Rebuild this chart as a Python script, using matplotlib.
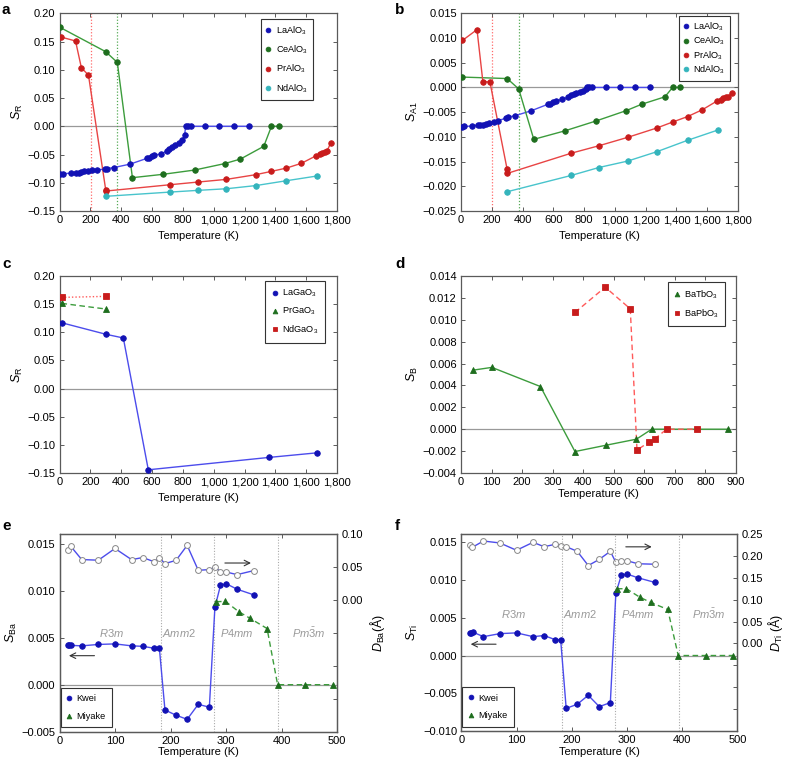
import matplotlib
matplotlib.use("Agg")
import matplotlib.pyplot as plt
from matplotlib.ticker import FuncFormatter, MultipleLocator

plt.rcParams['font.family'] = ['Liberation Sans', 'DejaVu Sans']
plt.rcParams['mathtext.fontset'] = 'custom'
plt.rcParams['mathtext.rm'] = 'Liberation Sans'
plt.rcParams['mathtext.it'] = 'Liberation Sans:italic'

# ---------------- data ----------------
# Panel a / b : aluminates
la_al_T = [4, 22, 73, 108, 125, 142, 162, 183, 212, 242, 294, 306, 354, 458, 565, 581, 600,
           615, 658, 695, 712, 732, 749, 773, 796, 812, 818, 832, 850, 941, 1036, 1131, 1226]
la_al_SR = [-0.084, -0.084, -0.083, -0.082, -0.082, -0.081, -0.080, -0.080, -0.078, -0.077,
            -0.076, -0.075, -0.073, -0.067, -0.057, -0.056, -0.053, -0.051, -0.049, -0.044,
            -0.040, -0.036, -0.033, -0.030, -0.025, -0.015, 0, 0, 0, 0, 0, 0, 0]
la_al_SA1 = [-0.0080, -0.0079, -0.0078, -0.0076, -0.0075, -0.0075, -0.0074, -0.0072, -0.0070,
             -0.0067, -0.0062, -0.0060, -0.0057, -0.0047, -0.0034, -0.0033, -0.0029, -0.0028,
             -0.0024, -0.0020, -0.0016, -0.0014, -0.0012, -0.0010, -0.0008, -0.0004,
             0, 0, 0, 0, 0, 0, 0]

ce_al_T = [4, 300, 375, 473, 673, 876, 1073, 1174, 1325, 1375, 1425]
ce_al_SR = [0.175, 0.132, 0.113, -0.091, -0.085, -0.0775, -0.066, -0.058, -0.0355, 0.0, 0.0]
ce_al_SA1 = [0.0021, 0.0018, -0.0003, -0.0105, -0.0088, -0.0068, -0.0047, -0.0034, -0.0019, 0.0, 0.0]

pr_al_T = [9, 104, 142, 188, 300, 300, 717, 896, 1083, 1273, 1375, 1472, 1569, 1666, 1688,
           1705, 1720, 1735, 1759]
pr_al_SR = [0.158, 0.151, 0.1035, 0.0905, -0.113, -0.1147, -0.1035, -0.0988, -0.094, -0.0857,
            -0.0798, -0.074, -0.0656, -0.052, -0.0497, -0.047, -0.045, -0.044, -0.0296]
pr_al_SA1 = [0.0095, 0.0117, 0.0012, 0.0011, -0.0166, -0.0174, -0.0133, -0.0118, -0.0101,
             -0.0082, -0.0070, -0.0059, -0.0045, -0.0027, -0.0026, -0.0022, -0.0020, -0.0019,
             -0.0011]

nd_al_T = [300, 717, 896, 1083, 1273, 1472, 1671]
nd_al_SR = [-0.124, -0.1165, -0.1135, -0.1106, -0.105, -0.0964, -0.088]
nd_al_SA1 = [-0.0211, -0.0178, -0.0162, -0.0149, -0.0130, -0.0107, -0.0086]

al_transitions = [203, 375]

# Panel c : gallates
la_ga_T = [13, 302, 414, 576, 1356, 1673]
la_ga_SR = [0.117, 0.0964, 0.0899, -0.1443, -0.1224, -0.1141]
pr_ga_T = [13, 302]
pr_ga_SR = [0.1514, 0.1413]
nd_ga_T = [13, 302]
nd_ga_SR = [0.162, 0.1638]

# Panel d
batb_T = [40, 101, 260, 373, 475, 574, 624, 873]
batb_SB = [0.0054, 0.00565, 0.0039, -0.00204, -0.00146, -0.00091, 0.0, 0.0]
bapb_T = [373, 472, 554, 576, 614, 634, 673, 772]
bapb_SB = [0.01067, 0.01298, 0.0110, -0.00191, -0.00119, -0.00088, 0.0, 0.0]

# Panels e / f : BaTiO3
kwei_T = [15, 17, 21, 40, 70, 100, 130, 150, 170, 180, 190, 210, 230, 250, 270, 280, 290, 300, 320, 350]
kwei_SBa = [0.00426, 0.0042, 0.0042, 0.00415, 0.0043, 0.00436, 0.00415, 0.0041, 0.0039, 0.00387,
            -0.0027, -0.00326, -0.0037, -0.0021, -0.0024, 0.00826, 0.0106, 0.0108, 0.0102, 0.0096]
kwei_STi = [0.00296, 0.0030, 0.0031, 0.0025, 0.0029, 0.0030, 0.0025, 0.00265, 0.0021, 0.0021,
            -0.0070, -0.00646, -0.00527, -0.00677, -0.00624, 0.00827, 0.01066, 0.0108, 0.0103, 0.0097]
miyake_T = [282, 299, 323, 343, 374, 393, 443, 493]
miyake_SBa = [0.00887, 0.0089, 0.0078, 0.0071, 0.0060, 0.0, 0.0, 0.0]
miyake_STi = [0.00885, 0.00885, 0.00774, 0.00704, 0.0061, 0.0, 0.0, 0.0]
d_T = [15, 20, 40, 70, 100, 130, 150, 170, 180, 190, 210, 230, 250, 270, 280, 290, 300, 320, 350]
d_Ba = [0.0755, 0.0816, 0.0612, 0.0602, 0.078, 0.061, 0.0643, 0.058, 0.064, 0.055, 0.060, 0.0827,
        0.0449, 0.0459, 0.0495, 0.0429, 0.0423, 0.0383, 0.0444]
d_Ti = [0.224, 0.2196, 0.234, 0.2295, 0.2128, 0.231, 0.221, 0.2264, 0.2226, 0.221, 0.2105, 0.178,
        0.192, 0.2105, 0.185, 0.189, 0.189, 0.182, 0.181]
bt_transitions = [183, 279, 394]
phase_names = [r"$R3m$", r"$Amm2$", r"$P4mm$", r"$Pm\bar{3}m$"]
phase_T = [94, 216, 320, 449]

# ---------------- styles ----------------
BLUE_M, BLUE_L = '#1212b4', '#4c4cec'
GREEN_M, GREEN_L = '#1e6e1e', '#3c9c3c'
RED_M, RED_L = '#c81c1c', '#e84444'
CYAN_M, CYAN_L = '#34b4bc', '#48c4cc'
SPINE = '#5a5a5a'
FS = 8
LFS = 6.6

fig = plt.figure(figsize=(7.86, 7.64), dpi=100)
W, H = 786.0, 764.0


def add_ax(l, t, r, b):
    return fig.add_axes([l / W, 1 - b / H, (r - l) / W, (b - t) / H])


def style(ax, right=True):
    for s in ax.spines.values():
        s.set_color(SPINE)
        s.set_linewidth(0.9)
    ax.tick_params(direction='in', top=True, right=right, length=3, width=0.7,
                   colors=SPINE, labelcolor='black', labelsize=FS, pad=3)
    ax.axhline(0, color='#999999', lw=0.9, zorder=1)


comma = FuncFormatter(lambda v, p: f"{int(v):,}")


def fmt(n):
    return FuncFormatter(lambda v, p: f"{v:.{n}f}".replace('-', '\u2212') if abs(v) > 1e-12 else f"{0:.{n}f}")


def series(ax, x, y, mc, lc, marker='o', ls='-', ms=4.0, label=None):
    ax.plot(x, y, ls=ls, color=lc, lw=1.0, zorder=2)
    ax.plot(x, y, ls='none', marker=marker, ms=ms, mfc=mc, mec=mc, mew=0.6, zorder=3, label=label)


def legend(ax, loc, anchor, spacing, pad):
    leg = ax.legend(loc=loc, fontsize=LFS, markerscale=0.85, handlelength=0.5,
                    handletextpad=0.55, borderpad=pad, labelspacing=spacing, fancybox=False,
                    framealpha=1, edgecolor='#333333', bbox_to_anchor=anchor, borderaxespad=0)
    leg.get_frame().set_linewidth(0.8)
    return leg


def panel_letter(s, x, y):
    fig.text(x / W, 1 - y / H, s, fontsize=11, fontweight='bold', va='center', ha='left')


# ---------- a ----------
ax = add_ax(59.5, 13.3, 337, 211)
style(ax)
for T, c in zip(al_transitions, ['#ff6b6b', '#55aa55']):
    ax.axvline(T, color=c, ls=(0, (1, 1.5)), lw=0.9, zorder=1)
series(ax, la_al_T, la_al_SR, BLUE_M, BLUE_L, label='LaAlO$_3$')
series(ax, ce_al_T, ce_al_SR, GREEN_M, GREEN_L, label='CeAlO$_3$')
series(ax, pr_al_T, pr_al_SR, RED_M, RED_L, label='PrAlO$_3$')
series(ax, nd_al_T, nd_al_SR, CYAN_M, CYAN_L, label='NdAlO$_3$')
ax.set_xlim(0, 1800)
ax.set_ylim(-0.15, 0.20)
ax.xaxis.set_major_locator(MultipleLocator(200))
ax.yaxis.set_major_locator(MultipleLocator(0.05))
ax.xaxis.set_major_formatter(comma)
ax.yaxis.set_major_formatter(fmt(2))
ax.set_xlabel('Temperature (K)', fontsize=FS)
ax.set_ylabel(r'$S_{\rm R}$', fontsize=FS + 1, labelpad=2)
legend(ax, 'upper right', (0.9135, 0.971), 0.75, 0.55)
panel_letter('a', 2, 10)

# ---------- b ----------
ax = add_ax(461, 13.3, 738, 211)
style(ax)
for T, c in zip(al_transitions, ['#ff6b6b', '#55aa55']):
    ax.axvline(T, color=c, ls=(0, (1, 1.5)), lw=0.9, zorder=1)
series(ax, la_al_T, la_al_SA1, BLUE_M, BLUE_L, label='LaAlO$_3$')
series(ax, ce_al_T, ce_al_SA1, GREEN_M, GREEN_L, label='CeAlO$_3$')
series(ax, pr_al_T, pr_al_SA1, RED_M, RED_L, label='PrAlO$_3$')
series(ax, nd_al_T, nd_al_SA1, CYAN_M, CYAN_L, label='NdAlO$_3$')
ax.set_xlim(0, 1800)
ax.set_ylim(-0.025, 0.015)
ax.xaxis.set_major_locator(MultipleLocator(200))
ax.yaxis.set_major_locator(MultipleLocator(0.005))
ax.xaxis.set_major_formatter(comma)
ax.yaxis.set_major_formatter(fmt(3))
ax.set_xlabel('Temperature (K)', fontsize=FS)
ax.set_ylabel(r'$S_{\rm A1}$', fontsize=FS + 1, labelpad=2)
legend(ax, 'upper right', (0.971, 0.986), 0.2, 0.5)
panel_letter('b', 393 + 2, 10)

# ---------- c ----------
ax = add_ax(59.5, 276, 337, 473)
style(ax)
series(ax, la_ga_T, la_ga_SR, BLUE_M, BLUE_L, label='LaGaO$_3$')
series(ax, pr_ga_T, pr_ga_SR, GREEN_M, GREEN_L, marker='^', ls=(0, (4, 2.5)), label='PrGaO$_3$')
series(ax, nd_ga_T, nd_ga_SR, RED_M, '#ff5a5a', marker='s', ls=(0, (1, 1.5)), ms=3.8, label='NdGaO$_3$')
ax.set_xlim(0, 1800)
ax.set_ylim(-0.15, 0.20)
ax.xaxis.set_major_locator(MultipleLocator(200))
ax.yaxis.set_major_locator(MultipleLocator(0.05))
ax.xaxis.set_major_formatter(comma)
ax.yaxis.set_major_formatter(fmt(2))
ax.set_xlabel('Temperature (K)', fontsize=FS)
ax.set_ylabel(r'$S_{\rm R}$', fontsize=FS + 1, labelpad=2)
legend(ax, 'upper right', (0.957, 0.975), 0.7, 0.75)
panel_letter('c', 2, 264)

# ---------- d ----------
ax = add_ax(461, 276, 736, 473)
style(ax)
series(ax, batb_T, batb_SB, GREEN_M, GREEN_L, marker='^', label='BaTbO$_3$')
series(ax, bapb_T, bapb_SB, RED_M, '#ff5a5a', marker='s', ls=(0, (4, 2.5)), ms=3.8, label='BaPbO$_3$')
ax.set_xlim(0, 900)
ax.set_ylim(-0.004, 0.014)
ax.xaxis.set_major_locator(MultipleLocator(100))
ax.yaxis.set_major_locator(MultipleLocator(0.002))
ax.yaxis.set_major_formatter(fmt(3))
ax.set_xlabel('Temperature (K)', fontsize=FS, labelpad=1)
ax.set_ylabel(r'$S_{\rm B}$', fontsize=FS + 1, labelpad=2)
legend(ax, 'upper right', (0.96, 0.97), 0.7, 0.7)
panel_letter('d', 393 + 2, 264)


# ---------- e / f ----------
def bt_panel(box, S_kwei, S_miy, D, ylim, ylim2, ylab, y2lab, y2labeled, phase_y,
             larrow_y, rarrow_y, letter, letter_xy, y2pad):
    ax = add_ax(*box)
    style(ax, right=False)
    for T in bt_transitions:
        ax.axvline(T, color='#aaaaaa', ls=(0, (1, 1.5)), lw=0.8, zorder=1)
    ax2 = ax.twinx()
    ax2.plot(d_T, D, color=BLUE_L, lw=1.0, marker='o', ms=4.2, mfc='white',
             mec='#888888', mew=0.7, zorder=3)
    series(ax, kwei_T, S_kwei, BLUE_M, BLUE_L, label='Kwei')
    series(ax, miyake_T, S_miy, GREEN_M, GREEN_L, marker='^', ls=(0, (4, 2.5)), label='Miyake')
    ax.set_xlim(0, 500)
    ax.set_ylim(*ylim)
    ax.xaxis.set_major_locator(MultipleLocator(100))
    ax.yaxis.set_major_locator(MultipleLocator(0.005))
    ax.yaxis.set_major_formatter(fmt(3))
    ax.set_xlabel('Temperature (K)', fontsize=FS, labelpad=1)
    ax.set_ylabel(ylab, fontsize=FS + 1, labelpad=2)
    ax2.set_ylim(*ylim2)
    ax2.yaxis.set_major_locator(MultipleLocator(0.05))
    ax2.yaxis.set_major_formatter(FuncFormatter(
        lambda v, p: f"{v:.2f}" if v > -1e-9 and v <= y2labeled + 1e-9 else ""))
    ax2.tick_params(direction='in', length=3, width=0.7, colors=SPINE,
                    labelcolor='black', labelsize=FS, pad=3)
    for s in ax2.spines.values():
        s.set_color(SPINE)
        s.set_linewidth(0.9)
    ax2.set_ylabel(y2lab, fontsize=FS + 1, labelpad=y2pad)
    ax.set_zorder(ax2.get_zorder() + 1)
    ax.patch.set_visible(False)
    for name, T in zip(phase_names, phase_T):
        ax.text(T, phase_y, name, color='#999999', fontsize=FS, ha='center', va='center')
    ax.annotate('', xy=(12, larrow_y), xytext=(68, larrow_y),
                arrowprops=dict(arrowstyle='->', color='#333333', lw=0.8))
    ax.annotate('', xy=(350, rarrow_y), xytext=(293, rarrow_y),
                arrowprops=dict(arrowstyle='->', color='#333333', lw=0.8))
    legend(ax, 'lower left', (0.004, 0.022), 0.95, 0.7)
    panel_letter(letter, *letter_xy)


bt_panel((59.5, 534, 337, 731.5), kwei_SBa, miyake_SBa, d_Ba, (-0.005, 0.0161), (-0.2, 0.1),
         r'$S_{\rm Ba}$', r'$D_{\rm Ba}$(Å)', 0.10, 0.0055, 0.0031, 0.0130,
         'e', (2, 526), 4)
bt_panel((461.3, 534, 737.3, 731), kwei_STi, miyake_STi, d_Ti, (-0.010, 0.0161), (-0.2, 0.25),
         r'$S_{\rm Ti}$', r'$D_{\rm Ti}$ (Å)', 0.25, 0.0055, 0.0015, 0.0144, 'f', (393 + 2, 526), 2)

fig.savefig('out.png', dpi=100)
